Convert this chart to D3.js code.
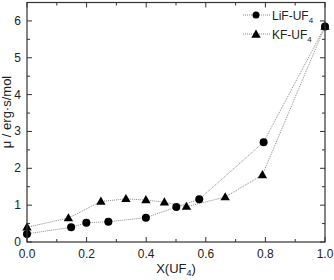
<!DOCTYPE html>
<html>
 <head>
    <style>
        body { margin: 0; background: #fff; }
        svg { display: block; font-family: "Liberation Sans", Arial, sans-serif; }
    </style>
    <script src="https://d3js.org/d3.v7.min.js"></script>
 </head>
 <body>
    <div id="chart"></div>
    <script>
        // LiF-UF4 series
        const lifX = [0.0, 0.148, 0.199, 0.273, 0.399, 0.501, 0.578, 0.794, 1.0];
        const lifY = [0.22, 0.40, 0.52, 0.55, 0.66, 0.95, 1.16, 2.71, 5.85];
        // KF-UF4 series
        const kfX = [0.0, 0.139, 0.248, 0.332, 0.399, 0.461, 0.535, 0.665, 0.79, 1.0];
        const kfY = [0.40, 0.65, 1.10, 1.17, 1.14, 1.08, 0.96, 1.22, 1.82, 5.85];
        const xTicks = [0.0, 0.2, 0.4, 0.6, 0.8, 1.0];
        const yTicks = [0, 1, 2, 3, 4, 5, 6];

        const W = 334, H = 280;
        const padL = 27, padR = 325, padT = 2.5, padB = 242;

        const svg = d3.select("#chart").append("svg").attr("width", W).attr("height", H);

        const x = d3.scaleLinear().domain([0, 1]).range([padL, padR]);
        const y = d3.scaleLinear().domain([0, 6.5]).range([padB, padT]);

        const line = d3.line().x(d => x(d[0])).y(d => y(d[1]));
        const lif = lifX.map((v, i) => [v, lifY[i]]);
        const kf = kfX.map((v, i) => [v, kfY[i]]);

        // dotted connecting lines
        [kf, lif].forEach(s => {
            svg.append("path").datum(s).attr("d", line)
                .attr("fill", "none").attr("stroke", "#8a8a8a")
                .attr("stroke-width", 1).attr("stroke-dasharray", "1,1");
        });

        const tri = d3.symbol().type(d3.symbolTriangle).size(38);
        svg.append("g").selectAll("path").data(kf).join("path")
            .attr("d", tri)
            .attr("transform", d => `translate(${x(d[0])},${y(d[1]) + 0.5})`)
            .attr("fill", "#000");
        svg.append("g").selectAll("circle").data(lif).join("circle")
            .attr("cx", d => x(d[0])).attr("cy", d => y(d[1])).attr("r", 4)
            .attr("fill", "#000");

        // frame
        svg.append("rect").attr("x", padL).attr("y", padT)
            .attr("width", padR - padL).attr("height", padB - padT)
            .attr("fill", "none").attr("stroke", "#333").attr("stroke-width", 1.2);

        // ticks, pointing inwards
        const xMinor = d3.range(0.1, 1, 0.2);
        const yMinor = d3.range(0.5, 6.5, 1);
        const tk = svg.append("g").attr("stroke", "#333").attr("stroke-width", 1);
        xTicks.forEach(t => {
            tk.append("line").attr("x1", x(t)).attr("x2", x(t)).attr("y1", padB).attr("y2", padB - 5);
            tk.append("line").attr("x1", x(t)).attr("x2", x(t)).attr("y1", padT).attr("y2", padT + 5);
        });
        xMinor.forEach(t => {
            tk.append("line").attr("x1", x(t)).attr("x2", x(t)).attr("y1", padB).attr("y2", padB - 3);
            tk.append("line").attr("x1", x(t)).attr("x2", x(t)).attr("y1", padT).attr("y2", padT + 3);
        });
        yTicks.forEach(t => {
            tk.append("line").attr("y1", y(t)).attr("y2", y(t)).attr("x1", padL).attr("x2", padL + 5);
            tk.append("line").attr("y1", y(t)).attr("y2", y(t)).attr("x1", padR).attr("x2", padR - 5);
        });
        yMinor.forEach(t => {
            tk.append("line").attr("y1", y(t)).attr("y2", y(t)).attr("x1", padL).attr("x2", padL + 3);
            tk.append("line").attr("y1", y(t)).attr("y2", y(t)).attr("x1", padR).attr("x2", padR - 3);
        });

        // tick labels
        svg.append("g").selectAll("text").data(xTicks).join("text")
            .attr("x", d => x(d)).attr("y", padB + 16)
            .attr("text-anchor", "middle").attr("font-size", 12).attr("fill", "#222")
            .text(d => d.toFixed(1));
        svg.append("g").selectAll("text").data(yTicks).join("text")
            .attr("x", padL - 6).attr("y", d => y(d) + 4)
            .attr("text-anchor", "end").attr("font-size", 12).attr("fill", "#222")
            .text(d => d);

        // axis titles
        const xt = svg.append("text").attr("x", 176).attr("y", 273)
            .attr("text-anchor", "middle").attr("font-size", 13).attr("fill", "#222");
        xt.append("tspan").text("X(UF");
        xt.append("tspan").attr("font-size", 9).attr("dy", 3).text("4");
        xt.append("tspan").attr("dy", -3).text(")");

        svg.append("text").attr("transform", "translate(11,112) rotate(-90)")
            .attr("text-anchor", "middle").attr("font-size", 13).attr("fill", "#222")
            .text("\u03bc / erg\u00b7s/mol");

        // legend
        const legend = [["LiF-UF", "circle"], ["KF-UF", "triangle"]];
        legend.forEach((l, i) => {
            const ly = 15 + i * 19;
            svg.append("line").attr("x1", 243).attr("x2", 270).attr("y1", ly).attr("y2", ly)
                .attr("stroke", "#8a8a8a").attr("stroke-dasharray", "1,1");
            if (l[1] === "circle") {
                svg.append("circle").attr("cx", 256).attr("cy", ly).attr("r", 3.5).attr("fill", "#000");
            } else {
                svg.append("path").attr("d", tri).attr("transform", `translate(256,${ly + 1})`).attr("fill", "#000");
            }
            const t = svg.append("text").attr("x", 272).attr("y", ly + 5)
                .attr("font-size", 12).attr("fill", "#222");
            t.append("tspan").text(l[0]);
            t.append("tspan").attr("font-size", 8).attr("dy", 3).text("4");
        });
    </script>
 </body>
</html>
